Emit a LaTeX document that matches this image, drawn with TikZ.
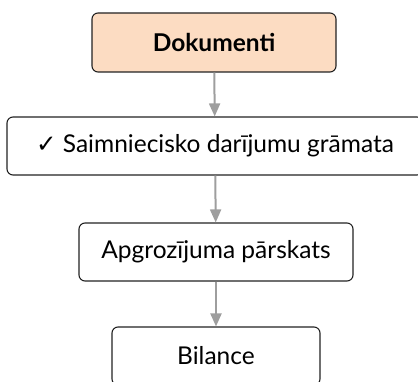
\documentclass[tikz,border=0pt]{standalone}
\usepackage{fontspec}
\setmainfont{Lato}
\newfontfamily\symfont{DejaVu Sans}
\usetikzlibrary{arrows.meta}
\definecolor{peach}{HTML}{FCDCC2}
\definecolor{edge}{HTML}{222222}
\definecolor{link}{HTML}{9E9E9E}
\tikzstyle{topbox}=[rectangle, rounded corners=6pt, draw=edge, line width=1.1pt,
fill=peach, minimum width=244pt, minimum height=59pt, font=\fontsize{24.5}{29}\selectfont\bfseries]
\tikzstyle{plainbox}=[rectangle, rounded corners=6pt, draw=edge, line width=1.1pt,
fill=white, minimum height=58pt, font=\fontsize{24.5}{29}\selectfont]
\tikzstyle{link}=[-{Triangle[length=13pt,width=11pt]}, draw=link, fill=link, line width=2pt]

\begin{document}
\begin{tikzpicture}[x=1pt,y=1pt]
\useasboundingbox (0,0) rectangle (418,-382);
\node[topbox](docs)at (214,-42.5){Dokumenti};
\node[plainbox, minimum width=416pt](journal)at (215,-146){{\symfont\bfseries ✓} Saimniecisko darījumu grāmata};
\node[plainbox, minimum width=274pt](turnover)at (216,-252){Apgrozījuma pārskats};
\node[plainbox, minimum width=208pt](balance)at (216,-356){Bilance};
\draw [link](docs) -- (journal);
\draw [link](journal) -- (turnover);
\draw [link](turnover) -- (balance);
\end{tikzpicture}
\end{document}
